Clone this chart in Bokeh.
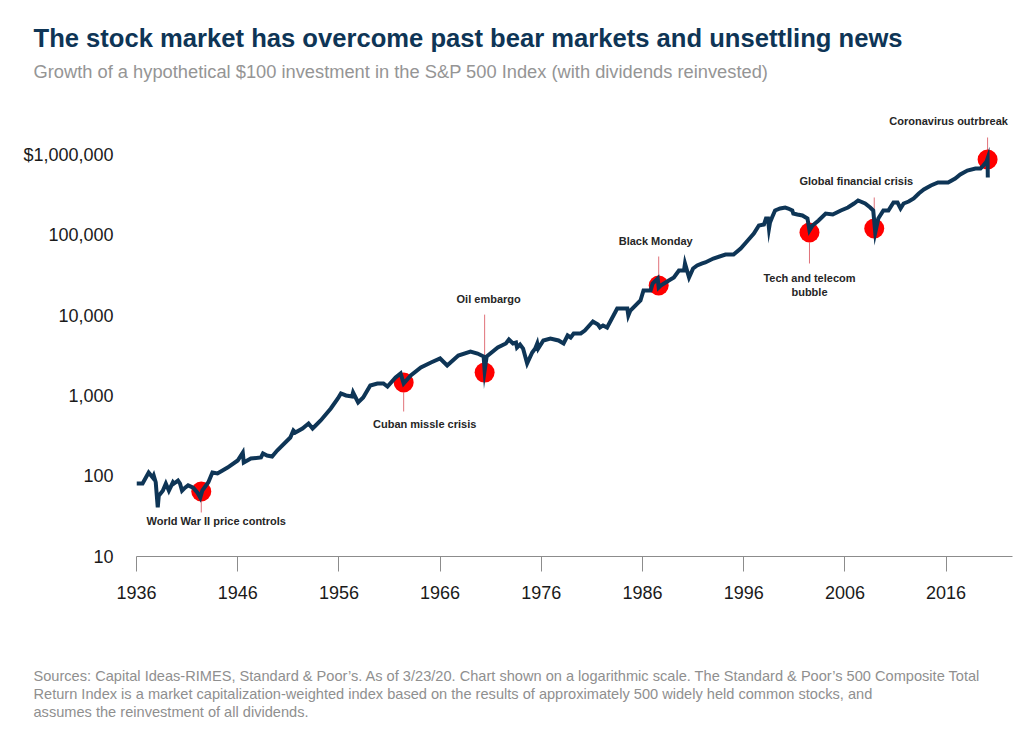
from bokeh.plotting import figure
from bokeh.models import Label, FixedTicker, Range1d, Title
from bokeh.embed import file_html
from bokeh.resources import INLINE

# ---------------- data ----------------
years = [
    1936.0, 1936.6, 1937.2, 1937.6, 1937.7, 1937.9, 1938.1, 1938.2, 1938.6, 1938.9,
    1939.2, 1939.6, 1939.7, 1940.1, 1940.3, 1940.5, 1940.8, 1941.1, 1941.6, 1942.0,
    1942.3, 1942.5, 1943.1, 1943.5, 1944.0, 1944.5, 1945.0, 1946.0, 1946.5, 1946.6,
    1947.3, 1948.3, 1948.5, 1948.9, 1949.4, 1949.9, 1951.2, 1951.5, 1951.7, 1952.4,
    1953.0, 1953.4, 1953.7, 1954.2, 1955.2, 1955.9, 1956.2, 1956.7, 1957.3, 1957.4,
    1957.9, 1958.4, 1959.1, 1959.8, 1960.4, 1960.8, 1961.6, 1962.1, 1962.4, 1963.1,
    1964.1, 1965.1, 1966.0, 1966.7, 1967.8, 1969.0, 1969.7, 1970.3, 1970.4, 1970.6,
    1971.7, 1972.5, 1972.8, 1973.2, 1973.5, 1973.6, 1973.9, 1974.2, 1974.6, 1975.1,
    1975.4, 1975.6, 1975.7, 1976.2, 1976.9, 1977.7, 1978.2, 1978.6, 1978.9, 1979.2,
    1979.9, 1980.3, 1981.1, 1981.6, 1981.8, 1982.1, 1982.5, 1983.5, 1984.5, 1984.6,
    1984.8, 1985.8, 1986.1, 1986.8, 1987.0, 1987.5, 1987.6, 1987.8, 1988.6, 1989.1,
    1989.6, 1990.1, 1990.2, 1990.4, 1990.6, 1991.0, 1991.4, 1991.9, 1992.2, 1993.0,
    1994.2, 1995.0, 1995.7, 1996.4, 1997.0, 1997.5, 1998.0, 1998.2, 1998.4, 1998.5,
    1998.6, 1998.8, 1999.1, 1999.6, 2000.1, 2000.4, 2000.8, 2000.9, 2001.3, 2001.8,
    2002.3, 2002.5, 2002.8, 2003.4, 2004.1, 2004.8, 2005.6, 2006.3, 2006.9, 2007.3,
    2008.0, 2008.5, 2008.8, 2009.0, 2009.3, 2009.8, 2010.3, 2010.8, 2011.2, 2011.5,
    2011.8, 2012.3, 2012.8, 2013.3, 2013.8, 2014.5, 2015.2, 2016.2, 2016.9, 2017.4,
    2018.1, 2018.9, 2019.4, 2019.6, 2020.0, 2020.1, 2020.12,
]
values = [
    81, 81, 111, 96, 102, 84, 41, 57, 66, 81,
    66, 84, 81, 88, 81, 66, 72, 77, 72, 63,
    54, 66, 84, 111, 108, 118, 128, 157, 197, 148,
    166, 171, 192, 181, 176, 209, 303, 371, 350, 393,
    453, 393, 428, 494, 697, 929, 1071, 1012, 984, 1102,
    828, 955, 1349, 1427, 1427, 1309, 1694, 1901, 1427, 1795,
    2258, 2606, 2923, 2393, 3185, 3573, 3370, 3100, 2072, 3100,
    4005, 4494, 5040, 4494, 4623, 4000, 4365, 3890, 2532, 3470,
    3890, 4494, 3890, 4898, 5188, 4898, 4494, 5653, 5336, 5988,
    5988, 6520, 8450, 7745, 7110, 7540, 7110, 12250, 12250, 10030,
    11570, 15420, 20550, 20550, 25120, 28970, 22390, 23700, 27370, 29800,
    36480, 36480, 44560, 36480, 29800, 38630, 42070, 44600, 45840, 51420,
    57690, 57690, 68550, 86100, 105200, 132500, 136200, 161900, 161900, 121600,
    144300, 166700, 203700, 215700, 221900, 215700, 203700, 186700, 181500, 176400,
    161900, 114800, 132500, 152900, 186700, 181500, 203700, 221900, 248900, 271200,
    248900, 221900, 203700, 108400, 161900, 203700, 203700, 256100, 256100, 215700,
    248900, 263600, 287300, 331600, 371600, 416600, 454600, 454600, 509600, 571300,
    640500, 678500, 678500, 718900, 830000, 904000, 524800,
]
assert len(years) == len(values)

event_labels = ["World War II price controls", "Cuban missle crisis", "Oil embargo",
                "Black Monday", "Tech and telecom\nbubble", "Global financial crisis",
                "Coronavirus outrbreak"]
event_years = [1942.4, 1962.4, 1970.4, 1987.6, 2002.5, 2008.9, 2020.1]
event_values = [64.5, 1468, 1950, 23700, 108400, 121600, 879000]

x_ticks = [1936, 1946, 1956, 1966, 1976, 1986, 1996, 2006, 2016]
y_ticks = [10, 100, 1000, 10000, 100000, 1000000]
y_tick_labels = ["10", "100", "1,000", "10,000", "100,000", "$1,000,000"]

title_text = "The stock market has overcome past bear markets and unsettling news"
subtitle_text = "Growth of a hypothetical $100 investment in the S&P 500 Index (with dividends reinvested)"
footnote_lines = [
    "Sources: Capital Ideas-RIMES, Standard & Poor\u2019s. As of 3/23/20. Chart shown on a logarithmic scale. The Standard & Poor\u2019s 500 Composite Total",
    "Return Index is a market capitalization-weighted index based on the results of approximately 500 widely held common stocks, and",
    "assumes the reinvestment of all dividends.",
]

# ---------------- layout / style ----------------
W, H = 1029, 750
FL, FR, FT, FB = 136, 1012, 110, 556          # frame edges in page pixels
PX_PER_YEAR = 10.12
PX_PER_DECADE = 80.3
X0 = 1936
X1 = X0 + (FR - FL) / PX_PER_YEAR
Y0 = 10
Y1 = 10 ** (1 + (FB - FT) / PX_PER_DECADE)

def shift_y(v, dpx):   # dpx > 0 means lower on the page
    return v * 10 ** (-dpx / PX_PER_DECADE)

def shift_x(x, dpx):
    return x + dpx / PX_PER_YEAR

# per event: label dx, label dy, connector start, connector end (pixels from circle centre)
event_layout = [
    (15, 30, 10, 21),
    (21, 41, 10, 29),
    (4, -74, -58, 0),
    (-3, -45, -29, -8),
    (0, 46, 10, 31),
    (-18, -47, -31, 0),
    (-39, -38, -22, -9),
]

NAVY = "#0e3556"
FONT = "Liberation Sans"

p = figure(width=W, height=H, y_axis_type="log", output_backend="svg",
           toolbar_location=None, x_range=Range1d(X0, X1), y_range=Range1d(Y0, Y1),
           min_border_left=FL, min_border_right=W - FR, min_border_top=FT,
           min_border_bottom=H - FB)
p.outline_line_color = None
p.grid.grid_line_color = None
p.background_fill_color = "white"
p.border_fill_color = "white"

# x axis
p.xaxis.ticker = FixedTicker(ticks=x_ticks)
p.xaxis.axis_line_color = "#8c8c8c"
p.xaxis.major_tick_line_color = "#8c8c8c"
p.xaxis.major_tick_out = 15
p.xaxis.major_tick_in = 0
p.xaxis.minor_tick_line_color = None
p.xaxis.major_label_standoff = 14
p.xaxis.major_label_text_font = FONT
p.xaxis.major_label_text_font_size = "18px"
p.xaxis.major_label_text_color = "#1a1a1a"

# y axis
p.yaxis.ticker = FixedTicker(ticks=y_ticks)
p.yaxis.major_label_overrides = {t: s for t, s in zip(y_ticks, y_tick_labels)}
p.yaxis.axis_line_color = None
p.yaxis.major_tick_line_color = None
p.yaxis.minor_tick_line_color = None
p.yaxis.major_tick_out = 0
p.yaxis.major_tick_in = 0
p.yaxis.major_label_standoff = 23
p.yaxis.major_label_text_font = FONT
p.yaxis.major_label_text_font_size = "18px"
p.yaxis.major_label_text_color = "#1a1a1a"

# connectors
cx, cy0, cy1 = [], [], []
for yr, v, (ldx, ldy, c0, c1) in zip(event_years, event_values, event_layout):
    cx.append(yr)
    cy0.append(shift_y(v, c0))
    cy1.append(shift_y(v, c1))
p.segment(x0=cx, y0=cy0, x1=cx, y1=cy1, line_color="#e0727a", line_width=1)

# event circles (under the line)
p.scatter(x=event_years, y=event_values, size=20, fill_color="#ff0000",
          line_color=None, marker="circle")

# main line
p.line(x=years, y=values, line_color=NAVY, line_width=4, line_join="miter")

# event labels
for text, yr, v, (ldx, ldy, c0, c1) in zip(event_labels, event_years, event_values, event_layout):
    for i, line in enumerate(text.split("\n")):
        p.add_layout(Label(x=shift_x(yr, ldx), y=shift_y(v, ldy + i * 13.5), text=line,
                           text_align="center", text_baseline="middle",
                           text_font=FONT, text_font_style="bold",
                           text_font_size="11px", text_color="#262626"))

def spacer(gap):
    return Title(text=" ", text_font=FONT, text_font_size="14px", standoff=gap,
                 text_color="white")

# title + subtitle (above, first added is closest to the frame)
p.add_layout(spacer(11), "above")
p.add_layout(Title(text=subtitle_text, align="left", offset=33 - FL, standoff=0,
                   text_font=FONT, text_font_style="normal", text_font_size="18.3px",
                   text_color="#959595"), "above")
p.add_layout(Title(text=title_text, align="left", offset=33 - FL, standoff=14,
                   text_font=FONT, text_font_style="bold", text_font_size="25.6px",
                   text_color=NAVY), "above")

# footnotes (below the x axis)
p.add_layout(spacer(46), "below")
for i, line in enumerate(footnote_lines):
    p.add_layout(Title(text=line, align="left", offset=33 - FL, standoff=0,
                       text_font=FONT, text_font_style="normal", text_font_size="14.6px",
                       text_color="#8f8f8f"), "below")

open("out.html", "w").write(file_html(p, INLINE))
